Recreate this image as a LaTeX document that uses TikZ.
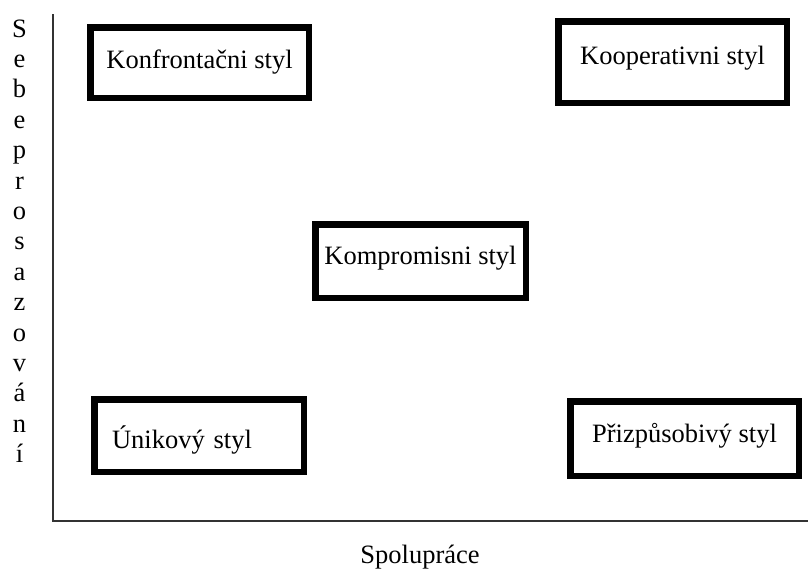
\documentclass[tikz,border=0pt]{standalone}
\usepackage{fontspec}
\setmainfont{Liberation Serif}
\begin{document}
\begin{tikzpicture}[x=1pt,y=-1pt,
    stylbox/.style={rectangle,draw,line width=6.5pt,inner sep=0pt,text depth=6pt,font=\fontsize{26.5}{30}\selectfont},
    letter/.style={anchor=base,inner sep=0pt,font=\fontsize{26.5}{30}\selectfont}]
    \useasboundingbox (0,0) rectangle (808,568);

    \coordinate (O) at (53,521);
    \coordinate (Ytop) at (53,14);
    \coordinate (Xend) at (808,521);
    \draw [line width=1.5pt,black!80] (Ytop) to (O) to (Xend);

    \node(Kon) at (199.5,62.5)[stylbox,minimum width=218.5pt,minimum height=70.5pt,text height=18pt]{Konfrontačni styl};
    \node(Koop) at (672.5,62)[stylbox,minimum width=228.5pt,minimum height=81.5pt,text height=10pt]{Kooperativni styl};
    \node(Komp) at (420.5,261)[stylbox,minimum width=210.5pt,minimum height=73.5pt,text height=12pt]{Kompromisni styl};
    \node(Unik) at (199,435.5)[stylbox,minimum width=209.5pt,minimum height=72.5pt,text height=31pt,text width=174pt,align=left]{Únikový styl};
    \node(Priz) at (684.5,438.5)[stylbox,minimum width=228.5pt,minimum height=74.5pt,text height=14pt]{Přizpůsobivý styl};

    \foreach \ch [count=\i from 0] in {S,e,b,e,p,r,o,s,a,z,o,v,á,n,í}
        \node(L\i) at (19.5,37+30.4*\i)[letter]{\ch};

    \node(Spol) at (420,563)[letter]{Spolupráce};
\end{tikzpicture}
\end{document}
